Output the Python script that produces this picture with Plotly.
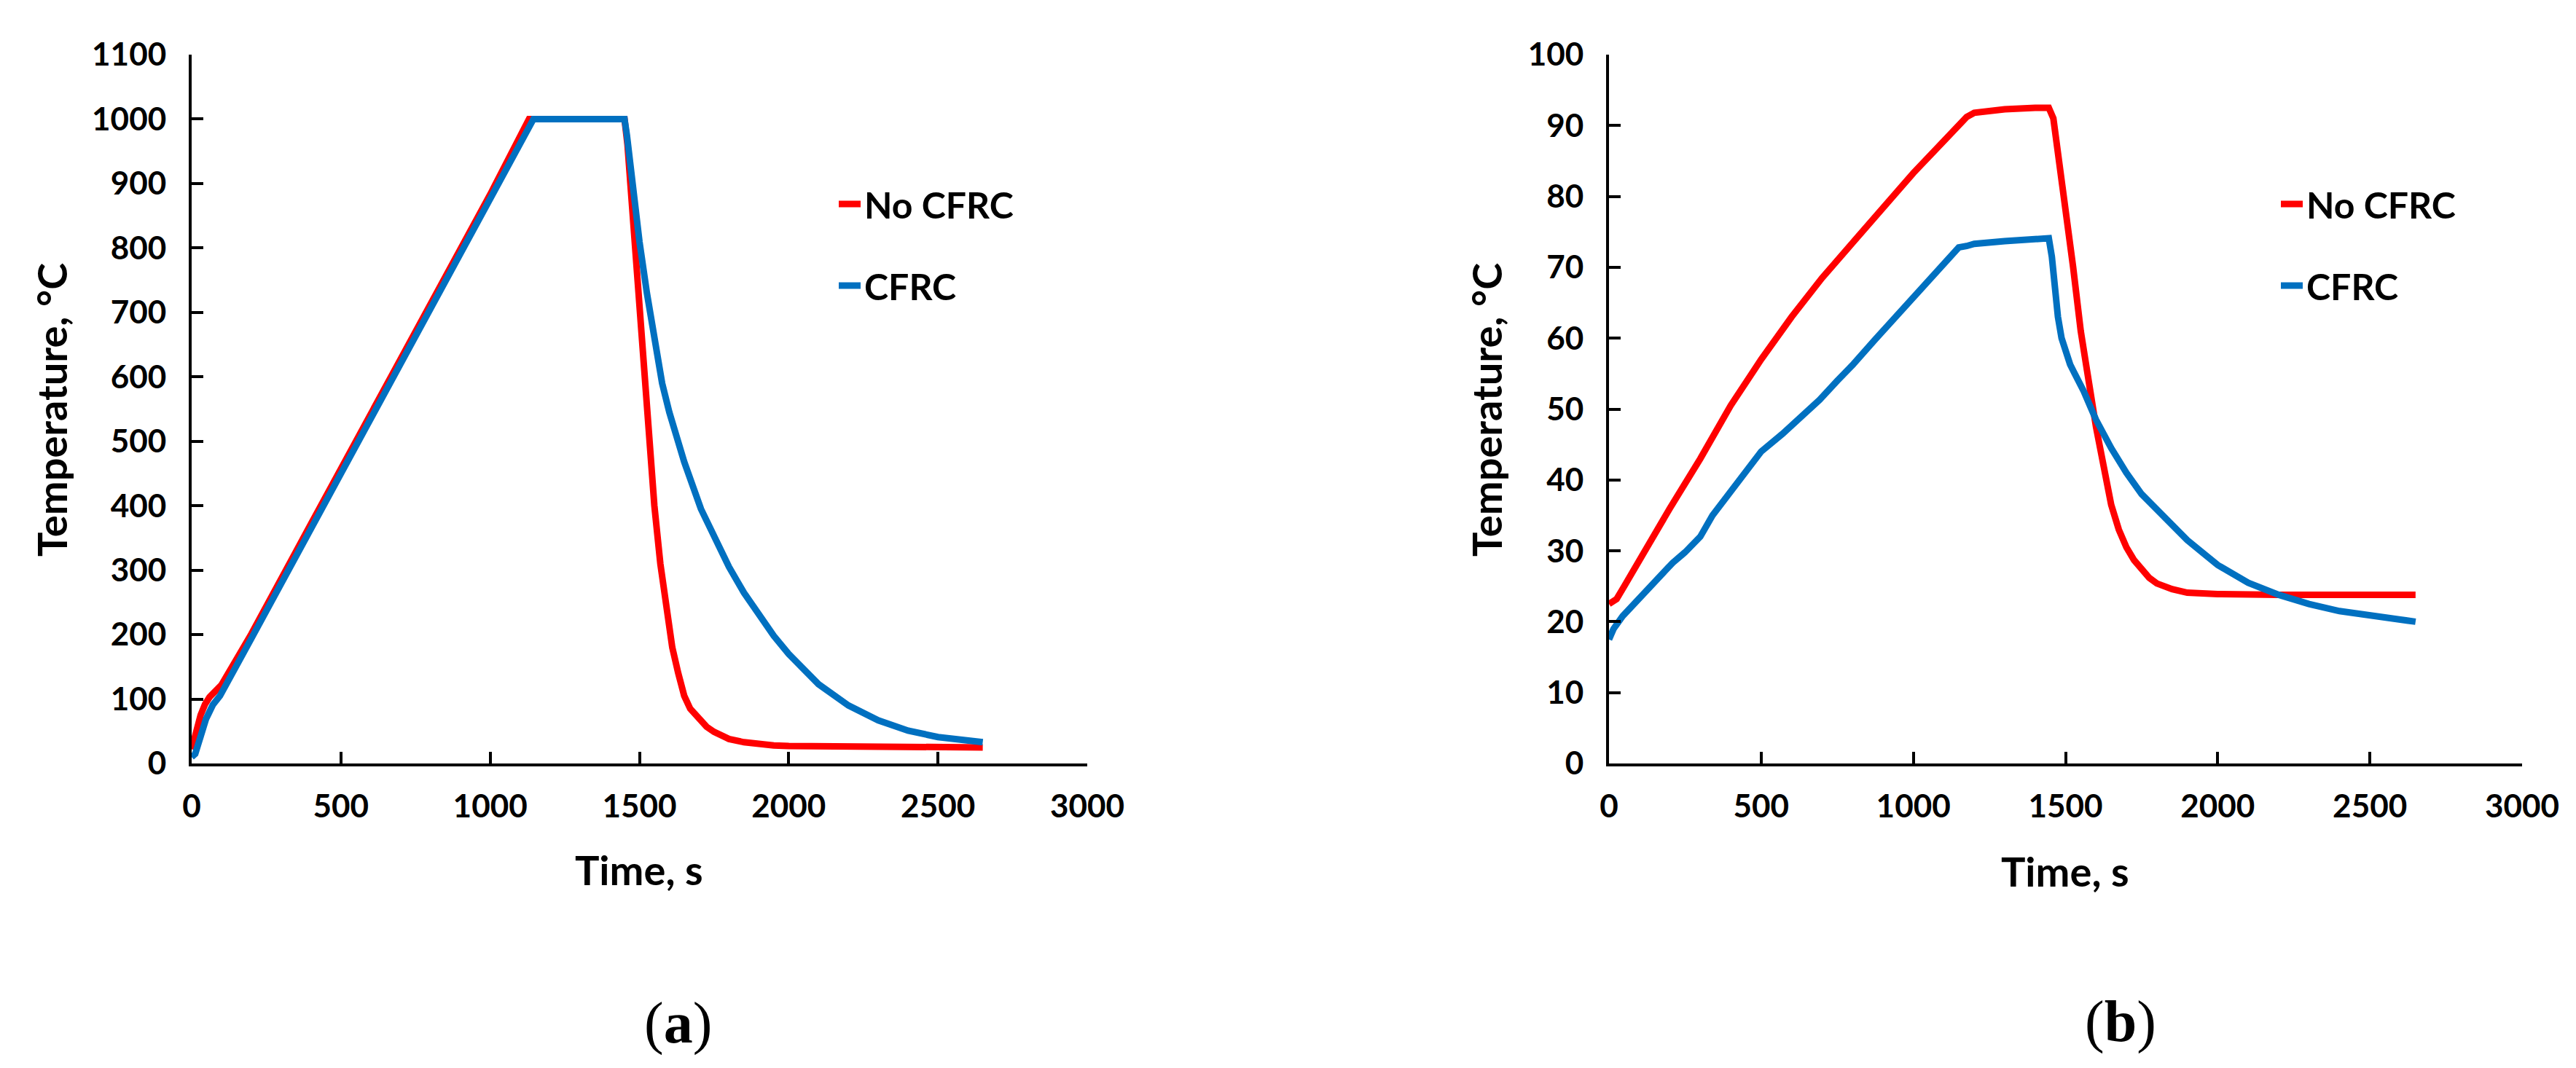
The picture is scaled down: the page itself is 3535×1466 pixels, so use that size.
import plotly.graph_objects as go

# ---------------- data ----------------
# Panel (a): furnace side temperature
a_red_t = [0, 10, 20, 30, 45, 60, 100, 150, 200, 400, 600, 800, 1000, 1130, 1200, 1300, 1400,
           1450, 1460, 1470, 1480, 1495, 1510, 1530, 1550, 1570, 1590, 1610, 1630, 1650, 1670,
           1700, 1725, 1750, 1775, 1800, 1850, 1900, 1950, 2000, 2200, 2400, 2650]
a_red_T = [22, 40, 58, 75, 92, 103, 122, 160, 201, 372, 542, 713, 883, 1000, 1000, 1000, 1000,
           1000, 960, 900, 830, 730, 630, 510, 400, 310, 235, 180, 140, 105, 85,
           68, 57, 49, 43, 38, 33, 30, 28, 27, 26, 25, 25]

a_blue_t = [0, 12, 30, 48, 71, 95, 200, 400, 600, 800, 1000, 1145, 1200, 1300, 1400, 1450,
            1458, 1468, 1480, 1500, 1525, 1550, 1576, 1600, 1650, 1706, 1750, 1800, 1850, 1900,
            1950, 2000, 2050, 2100, 2200, 2300, 2400, 2500, 2650]
a_blue_T = [10, 15, 42, 69, 91, 105, 194, 365, 535, 706, 876, 1000, 1000, 1000, 1000, 1000,
            975, 935, 885, 810, 730, 655, 590, 545, 468, 395, 350, 305, 265, 230,
            198, 170, 145, 123, 90, 67, 51, 41, 33]

# Panel (b): back side temperature
b_red_t = [0, 25, 50, 100, 150, 200, 300, 400, 500, 600, 700, 800, 900, 1000, 1100, 1150, 1175,
           1200, 1250, 1300, 1400, 1445, 1460, 1480, 1500, 1525, 1550, 1575, 1600, 1625, 1650,
           1675, 1700, 1725, 1750, 1775, 1800, 1850, 1900, 2000, 2200, 2400, 2650]
b_red_T = [22.5, 23.2, 25.0, 28.8, 32.5, 36.0, 43.0, 50.5, 57.0, 63.0, 68.5, 73.5, 78.5, 83.3,
           87.8, 90.2, 91.2, 91.8, 92.1, 92.3, 92.5, 92.5, 91.0, 85.0, 78.0, 70.0, 61.0, 54.0,
           47.5, 42.0, 36.5, 33.0, 30.5, 28.7, 27.3, 26.2, 25.4, 24.6, 24.1, 23.9, 23.8, 23.8,
           23.8]

b_blue_t = [0, 15, 45, 92, 150, 209, 250, 300, 340, 400, 472, 500, 570, 650, 692, 750, 800, 874,
            950, 1027, 1100, 1149, 1175, 1200, 1300, 1400, 1445, 1455, 1465, 1475, 1487, 1500,
            1515, 1530, 1545, 1560, 1580, 1600, 1650, 1700, 1750, 1800, 1850, 1900, 2000, 2100,
            2200, 2300, 2400, 2500, 2600, 2650]
b_blue_T = [17.5, 19.0, 20.8, 23.0, 25.8, 28.3, 29.8, 32.0, 35.0, 38.5, 42.7, 44.0, 46.5, 49.5,
            51.3, 54.0, 56.2, 59.8, 63.4, 67.0, 70.4, 72.8, 73.0, 73.3, 73.7, 74.0, 74.1, 71.5,
            67.0, 63.0, 60.0, 58.0, 56.3, 55.0, 53.8, 52.5, 50.5, 48.5, 44.5, 41.0, 38.0, 35.8,
            33.5, 31.5, 28.0, 25.5, 23.8, 22.5, 21.5, 20.8, 20.3, 20.0]

series_names = ["No CFRC", "CFRC"]
x_ticks = [0, 500, 1000, 1500, 2000, 2500, 3000]
y_ticks_a = list(range(0, 1101, 100))
y_ticks_b = list(range(0, 101, 10))

RED = "#FF0000"
BLUE = "#0070C0"
FONT = "Lato"

# ---------------- figure ----------------
W, H = 3535, 1466
fig = go.Figure()

line_kw = dict(width=9)
fig.add_trace(go.Scatter(x=a_red_t, y=a_red_T, mode="lines", name=series_names[0],
                         line=dict(color=RED, **line_kw), xaxis="x", yaxis="y",
                         legend="legend", legendgroup="a1"))
fig.add_trace(go.Scatter(x=a_blue_t, y=a_blue_T, mode="lines", name=series_names[1],
                         line=dict(color=BLUE, **line_kw), xaxis="x", yaxis="y",
                         legend="legend", legendgroup="a2"))
fig.add_trace(go.Scatter(x=b_red_t, y=b_red_T, mode="lines", name=series_names[0],
                         line=dict(color=RED, **line_kw), xaxis="x2", yaxis="y2",
                         legend="legend2", legendgroup="b1"))
fig.add_trace(go.Scatter(x=b_blue_t, y=b_blue_T, mode="lines", name=series_names[1],
                         line=dict(color=BLUE, **line_kw), xaxis="x2", yaxis="y2",
                         legend="legend2", legendgroup="b2"))

tickfont = dict(family=FONT, size=44, color="black", weight="bold")
axis_common = dict(showline=True, linecolor="black", linewidth=4, ticks="inside",
                   ticklen=16, tickwidth=4, tickcolor="black", showgrid=False,
                   zeroline=False, tickfont=tickfont, automargin=False)

ydom = [1 - 1040 / H, 1 - 67 / H]
legend_font = dict(family=FONT, size=50, color="black", weight="bold")
fig.update_layout(
    width=W, height=H,
    margin=dict(l=0, r=0, t=0, b=0, autoexpand=False),
    paper_bgcolor="white", plot_bgcolor="white",
    template="none",
    xaxis=dict(domain=[255 / W, 1484 / W], range=[0, 3000], tickvals=x_ticks,
               anchor="y", ticklabelstandoff=17, **axis_common),
    yaxis=dict(domain=ydom, range=[0, 1100], tickvals=y_ticks_a, anchor="x",
               ticklabelstandoff=22, **axis_common),
    xaxis2=dict(domain=[2200 / W, 3453 / W], range=[0, 3000], tickvals=x_ticks,
                anchor="y2", ticklabelstandoff=17, **axis_common),
    yaxis2=dict(domain=ydom, range=[0, 100], tickvals=y_ticks_b, anchor="x2",
                ticklabelstandoff=22, **axis_common),
    legend=dict(x=1138 / W, y=1 - 328 / H, xanchor="left", yanchor="middle",
                font=legend_font, bgcolor="rgba(0,0,0,0)", tracegroupgap=44,
                traceorder="grouped"),
    legend2=dict(x=3117 / W, y=1 - 328 / H, xanchor="left", yanchor="middle",
                 font=legend_font, bgcolor="rgba(0,0,0,0)", tracegroupgap=44,
                 traceorder="grouped"),
)

title_font = dict(family=FONT, size=56, color="black", weight="bold")
annots = [
    dict(text="Temperature, °C", x=62 / W, y=1 - 555 / H, textangle=-90, font=title_font),
    dict(text="Temperature, °C", x=2031 / W, y=1 - 555 / H, textangle=-90, font=title_font),
    dict(text="Time, s", x=869 / W, y=1 - 1185 / H, font=title_font),
    dict(text="Time, s", x=2826 / W, y=1 - 1187 / H, font=title_font),
    dict(text="(<b>a</b>)", x=922 / W, y=1 - 1396 / H,
         font=dict(family="Liberation Serif", size=80, color="black")),
    dict(text="(<b>b</b>)", x=2902 / W, y=1 - 1394 / H,
         font=dict(family="Liberation Serif", size=80, color="black")),
]
for a in annots:
    fig.add_annotation(xref="paper", yref="paper", showarrow=False,
                       xanchor="center", yanchor="middle", **a)

fig.write_html("out.html")
